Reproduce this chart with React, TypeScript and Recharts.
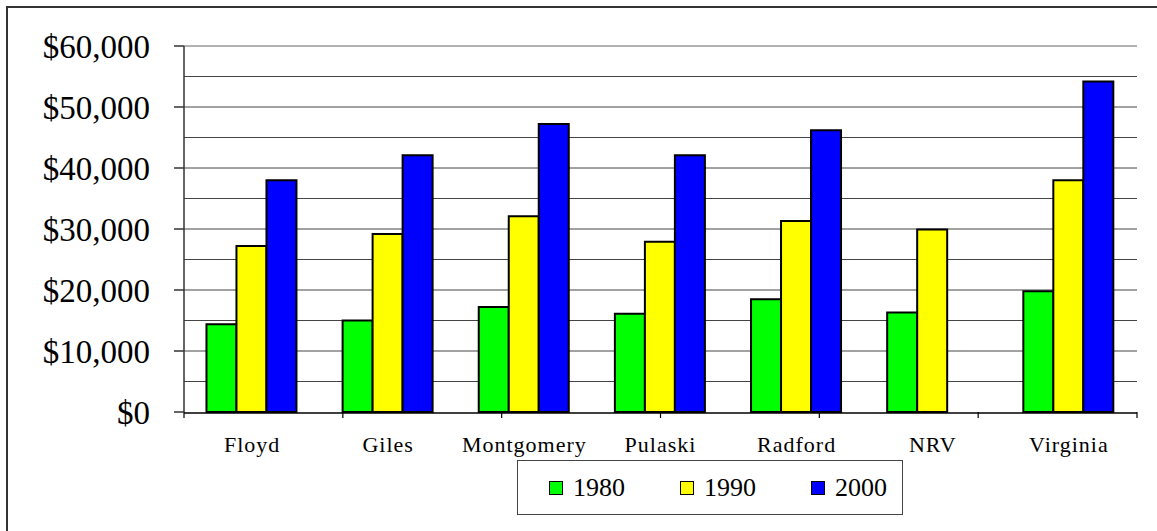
import React from "react"
import { BarChart, Bar, XAxis, YAxis, CartesianGrid, ReferenceLine } from "recharts"

const categories = ["Floyd", "Giles", "Montgomery", "Pulaski", "Radford", "NRV", "Virginia"]
const income1980 = [14400, 15000, 17200, 16100, 18500, 16300, 19800]
const income1990 = [27200, 29200, 32100, 27900, 31300, 29900, 38000]
const income2000: (number | null)[] = [38000, 42100, 47200, 42100, 46200, null, 54200]
const yTicks = [0, 10000, 20000, 30000, 40000, 50000, 60000]
const gridValues = [5000, 10000, 15000, 20000, 25000, 30000, 35000, 40000, 45000, 50000, 55000]
const boundaryTicks = [0, 1, 2, 3, 4, 5, 6, 7]

const series = [
  { key: "y1980", name: "1980", color: "#00ff00" },
  { key: "y1990", name: "1990", color: "#ffff00" },
  { key: "y2000", name: "2000", color: "#0000ff" },
]

const data = categories.map((name, i) => ({
  name,
  y1980: income1980[i],
  y1990: income1990[i],
  y2000: income2000[i],
}))

const serif = '"Liberation Serif", "Times New Roman", serif'

const formatDollar = (v: number) => "$" + v.toLocaleString("en-US")

export default function App() {
  return (
    <div style={{ position: "absolute", left: 0, top: 0, width: 1157, height: 531, background: "#fff", fontFamily: serif }}>
      <div
        style={{
          position: "absolute",
          left: 6,
          top: 6,
          width: 1151,
          height: 525,
          borderLeft: "2px solid #333",
          borderTop: "2px solid #333",
        }}
      />
      <BarChart
        width={1157}
        height={531}
        data={data}
        margin={{ top: 46, right: 20, left: 0, bottom: 80 }}
        barCategoryGap="16.5%"
        barGap={0}
      >
        <CartesianGrid
          xAxisId="cat"
          horizontal
          vertical={false}
          horizontalValues={gridValues}
          stroke="#444"
          strokeWidth={1}
        />
        <ReferenceLine xAxisId="cat" y={60000} stroke="#999" strokeWidth={1.5} />
        {/* boundary tick marks between categories */}
        <XAxis
          type="number"
          domain={[0, 7]}
          ticks={boundaryTicks}
          tick={() => <g />}
          axisLine={false}
          tickLine={{ stroke: "#000", strokeWidth: 1.2 }}
          tickSize={6}
          height={1}
        />
        <XAxis
          xAxisId="cat"
          dataKey="name"
          tickLine={false}
          axisLine={{ stroke: "#000", strokeWidth: 1.5 }}
          tickSize={6}
          tickMargin={17}
          height={38}
          interval={0}
          tick={{ fill: "#000", fontSize: 22, fontFamily: serif, letterSpacing: 1 }}
        />
        <YAxis
          domain={[0, 60000]}
          ticks={yTicks}
          tickFormatter={formatDollar}
          width={184}
          tickSize={10}
          tickMargin={24}
          interval={0}
          axisLine={{ stroke: "#333", strokeWidth: 1.5 }}
          tickLine={{ stroke: "#333", strokeWidth: 1.5 }}
          tick={{ fill: "#000", fontSize: 33, fontFamily: serif }}
        />
        <YAxis
          yAxisId="right"
          orientation="right"
          domain={[0, 60000]}
          width={0}
          tick={false}
          tickLine={false}
          axisLine={{ stroke: "#999", strokeWidth: 2 }}
        />
        {series.map((s) => (
          <Bar
            key={s.key}
            xAxisId="cat"
            dataKey={s.key}
            name={s.name}
            fill={s.color}
            stroke="#000"
            strokeWidth={2}
            isAnimationActive={false}
          />
        ))}
      </BarChart>
      <div
        style={{
          position: "absolute",
          left: 517,
          top: 460,
          width: 386,
          height: 55,
          boxSizing: "border-box",
          border: "1px solid #444",
          display: "flex",
          alignItems: "center",
          paddingLeft: 31,
          gap: 55,
          fontFamily: serif,
        }}
      >
        {series.map((s) => (
          <div key={s.key} style={{ display: "flex", alignItems: "center" }}>
            <span
              style={{
                display: "inline-block",
                width: 12,
                height: 12,
                background: s.color,
                border: "1.5px solid #000",
                marginRight: 10,
              }}
            />
            <span style={{ fontSize: 26, lineHeight: "26px", color: "#000", fontFamily: serif }}>{s.name}</span>
          </div>
        ))}
      </div>
    </div>
  )
}
